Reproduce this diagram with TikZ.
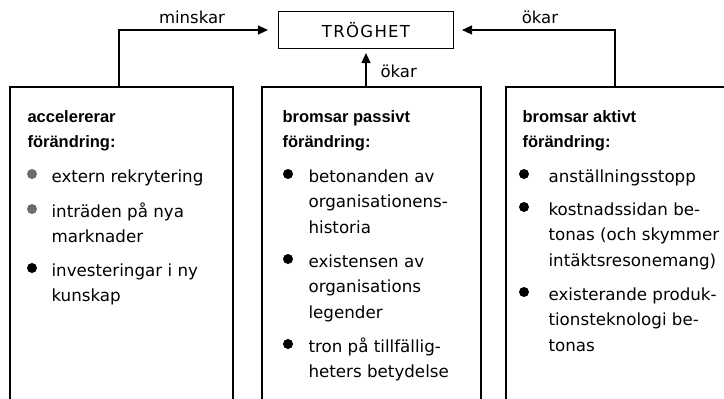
\documentclass[tikz,border=0pt]{standalone}
\usepackage{fontspec}
\setmainfont{DejaVu Sans}
\newfontfamily\rubrikfont{Liberation Sans}
\usetikzlibrary{arrows.meta}
\definecolor{gra}{HTML}{6B6B6B}

\begin{document}
\begin{tikzpicture}[x=1pt,y=-1pt,line width=1.1pt,
  rubrik/.style={anchor=base west,align=left,font=\rubrikfont\bfseries\fontsize{16.5}{25}\selectfont},
  punkt/.style={anchor=base west,align=left,font=\fontsize{16.7}{25.5}\selectfont},
  etikett/.style={font=\fontsize{16.5}{20}\selectfont},
  pil/.style={-{Triangle[length=10pt,width=9pt]},shorten >=#1},
  pil/.default=0pt]
\tikzstyle{every node}+=[inner sep=0pt]
\useasboundingbox (0,0) rectangle (724,399);
\node [draw,minimum width=175pt,minimum height=37pt,font=\fontsize{16.5}{20}\selectfont\addfontfeature{LetterSpace=8}] (trog) at (366,30) {TRÖGHET};
\draw [black] (10,399) -- (10,87) -- (233,87) -- (233,399);
\draw [black] (262,399) -- (262,87) -- (481,87) -- (481,399);
\draw [black] (506,399) -- (506,87) -- (724,87);
\coordinate (acc) at (119,87);
\coordinate (pas) at (366,87);
\coordinate (akt) at (615,87);
\draw [pil=10pt] (acc) |- (trog);
\draw [pil=4pt] (pas) -- (trog);
\draw [pil=8pt] (akt) |- (trog);
\node [etikett,anchor=base] (minskar) at (192,23) {minskar};
\node [etikett,anchor=base] (okar1) at (540,23) {ökar};
\node [etikett,anchor=base west] (okar2) at (380,77) {ökar};
\node [rubrik] (accrub) at (27,147) {accelererar\\förändring:};
\fill [gra] (32,174) circle (5);
\node [punkt] (acc1) at (51,182) {extern rekrytering};
\fill [gra] (32,209) circle (5);
\node [punkt] (acc2) at (51,242.5) {inträden på nya\\marknader};
\fill [black] (32,268) circle (5);
\node [punkt] (acc3) at (51,301.5) {investeringar i ny\\kunskap};
\node [rubrik] (pasrub) at (282,147) {bromsar passivt\\förändring:};
\fill [black] (288,174) circle (5);
\node [punkt] (pas1) at (308,233) {betonanden av\\organisationens-\\historia};
\fill [black] (288,259) circle (5);
\node [punkt] (pas2) at (308,318) {existensen av\\organisations\\legender};
\fill [black] (288,344) circle (5);
\node [punkt] (pas3) at (308,377.5) {tron på tillfällig-\\heters betydelse};
\node [rubrik] (aktrub) at (522,147) {bromsar aktivt\\förändring:};
\fill [black] (524,174) circle (5);
\node [punkt] (akt1) at (548,182) {anställningsstopp};
\fill [black] (524,207) circle (5);
\node [punkt] (akt2) at (548,266) {kostnadssidan be-\\tonas (och skymmer\\intäktsresonemang)};
\fill [black] (524,292) circle (5);
\node [punkt] (akt3) at (548,351) {existerande produk-\\tionsteknologi be-\\tonas};
\end{tikzpicture}
\end{document}
